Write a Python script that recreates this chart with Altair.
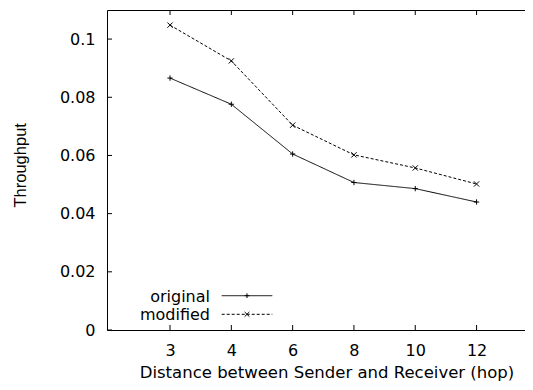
import json
import altair as alt
import pandas as pd

# ---- data ----
hops = [3, 4, 6, 8, 10, 12]
original = [0.0866, 0.0776, 0.0605, 0.0507, 0.0486, 0.0440]
modified = [0.1048, 0.0925, 0.0704, 0.0602, 0.0557, 0.0502]
series_names = ["original", "modified"]
y_ticks = [0, 0.02, 0.04, 0.06, 0.08, 0.1]
x_title = "Distance between Sender and Receiver (hop)"
y_title = "Throughput"

positions = list(range(1, len(hops) + 1))
df = pd.DataFrame({
    "pos": positions * 2,
    "hop": hops * 2,
    "value": original + modified,
    "series": ["original"] * len(hops) + ["modified"] * len(hops),
})
leg = pd.DataFrame({"series": series_names})
xt = pd.DataFrame({"pos": positions})
yt = pd.DataFrame({"v": y_ticks})

PLUS = "M-1,0H1M0,-1V1"
CROSS = "M-1,-1L1,1M-1,1L1,-1"
FONT = "DejaVu Sans"
W, H = 418, 320

dash_scale = alt.Scale(domain=series_names, range=[[1, 0], [3, 2]])
shape_scale = alt.Scale(domain=series_names, range=[PLUS, CROSS])
x_scale = alt.Scale(domain=[-0.028, 6.79], nice=False, zero=False)
y_scale = alt.Scale(domain=[0, 0.11], nice=False, zero=False)

label_expr = json.dumps([str(h) for h in hops]) + "[datum.value - 1]"

x_axis = alt.Axis(
    orient="bottom", values=positions, labelExpr=label_expr,
    ticks=False, labelPadding=12, labelFont=FONT, labelFontSize=16, labelColor="black",
    grid=False, domainColor="black", domainWidth=1,
    title=x_title, titleFont=FONT, titleFontSize=16.5, titleFontWeight="normal",
    titleColor="black", titleX=219.5, titleY=47.5, titleBaseline="alphabetic", titleAlign="center",
)
y_axis = alt.Axis(
    orient="left", values=y_ticks, format="~g",
    ticks=False, labelPadding=12, labelFont=FONT, labelFontSize=16, labelColor="black",
    grid=False, domainColor="black", domainWidth=1,
    title=y_title, titleFont="Liberation Sans", titleFontSize=16.5, titleFontWeight="normal",
    titleColor="black", titleX=-81.5, titleY=154.8, titleBaseline="alphabetic",
    titleAlign="center", titleAngle=270,
)

lines = alt.Chart(df).mark_line(color="black", strokeWidth=1).encode(
    x=alt.X("pos:Q", scale=x_scale, axis=x_axis),
    y=alt.Y("value:Q", scale=y_scale, axis=y_axis),
    strokeDash=alt.StrokeDash("series:N", scale=dash_scale, legend=None),
)

points = alt.Chart(df).mark_point(filled=False, color="black", strokeWidth=1, size=28, opacity=1).encode(
    x=alt.X("pos:Q", scale=x_scale,
            axis=alt.Axis(orient="top", labels=False, ticks=False, grid=False,
                          domain=True, domainColor="black", domainWidth=1, title=None)),
    y=alt.Y("value:Q", scale=y_scale, axis=None),
    shape=alt.Shape("series:N", scale=shape_scale, legend=None),
)

# inward tick marks (gnuplot style)
x_ticks_bottom = alt.Chart(xt).mark_rule(color="black", strokeWidth=1).encode(
    x=alt.X("pos:Q", scale=x_scale, axis=None), y=alt.value(H), y2=alt.value(H - 5))
x_ticks_top = alt.Chart(xt).mark_rule(color="black", strokeWidth=1).encode(
    x=alt.X("pos:Q", scale=x_scale, axis=None), y=alt.value(0), y2=alt.value(5))
y_ticks_left = alt.Chart(yt).mark_rule(color="black", strokeWidth=1).encode(
    y=alt.Y("v:Q", scale=y_scale, axis=None), x=alt.value(0), x2=alt.value(5))

leg_y = alt.Y("series:N", scale=alt.Scale(type="point", padding=0, domain=series_names,
                                         range=[285.7, 304.3]), axis=None)

leg_rule = alt.Chart(leg).mark_rule(color="black", strokeWidth=1).encode(
    x=alt.value(114.7), x2=alt.value(165.3), y=leg_y,
    strokeDash=alt.StrokeDash("series:N", scale=dash_scale, legend=None),
)
leg_pt = alt.Chart(leg).mark_point(filled=False, color="black", strokeWidth=1, size=22, opacity=1).encode(
    x=alt.value(140), y=leg_y,
    shape=alt.Shape("series:N", scale=shape_scale, legend=None),
)
leg_text = alt.Chart(leg).mark_text(align="right", baseline="alphabetic", dy=6,
                                     font=FONT, fontSize=16, color="black").encode(
    x=alt.value(103), y=leg_y, text="series:N",
)

chart = alt.layer(
    lines, points, x_ticks_bottom, x_ticks_top, y_ticks_left, leg_rule, leg_pt, leg_text
).resolve_scale(y="independent").resolve_axis(x="independent", y="independent").properties(
    width=W, height=H,
    autosize=alt.AutoSizeParams(type="none"),
    padding={"left": 99, "top": 2, "right": 0, "bottom": 52},
).configure_view(stroke=None)

chart.save("out.html", embed_options={"renderer": "svg", "actions": False})
